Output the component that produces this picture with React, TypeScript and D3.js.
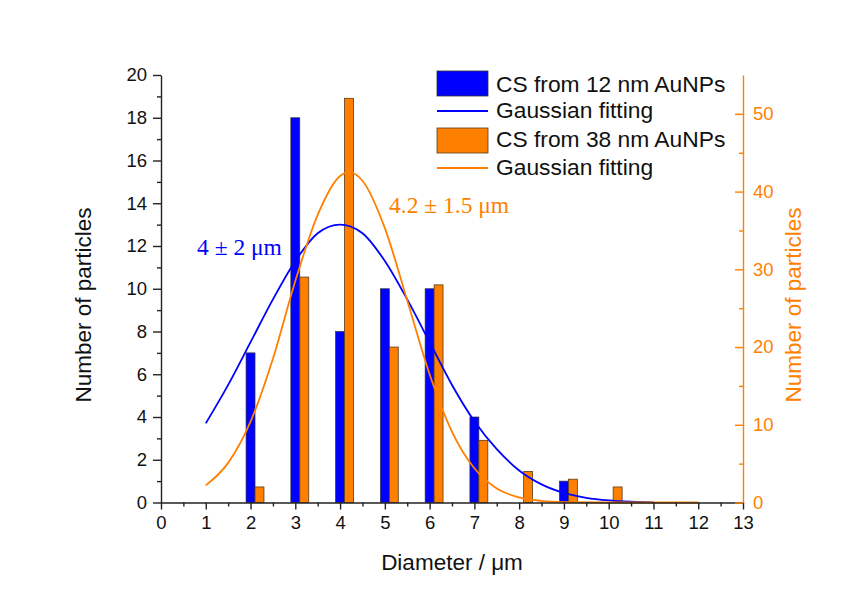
import React, { useEffect, useRef } from "react";
import * as d3 from "d3";

// diameter categories (µm)
const diameters = [2, 3, 4, 5, 6, 7, 8, 9, 10];
// counts for CS from 12 nm AuNPs (left axis)
const blueCounts = [7, 18, 8, 10, 10, 4, 0, 1, 0];
// counts for CS from 38 nm AuNPs (right axis)
const orangeCounts = [2, 29, 52, 20, 28, 8, 4, 3, 2];

// Gaussian fit curves
const blueFitX = [1, 1.5, 2, 2.5, 3, 3.5, 4, 4.5, 5, 5.5, 6, 6.5, 7, 7.5, 8, 8.5, 9, 9.5, 10, 10.5, 11];
const blueFitY = [3.7, 5.5, 7.5, 9.5, 11.3, 12.6, 13, 12.6, 11.3, 9.5, 7.5, 5.5, 3.8, 2.5, 1.5, 0.85, 0.45, 0.22, 0.1, 0.04, 0.01];
const orangeFitX = [1, 1.5, 2, 2.5, 3, 3.5, 4, 4.2, 4.5, 5, 5.5, 6, 6.5, 7, 7.5, 8, 8.5, 9, 10, 11, 12];
const orangeFitY = [2.2, 5.1, 10.4, 18.5, 28.5, 37, 42, 42.5, 41.4, 35.3, 26, 16.5, 9.1, 4.4, 1.8, 0.65, 0.2, 0.05, 0, 0, 0];

const xTicks = d3.range(0, 14);
const leftTicks = d3.range(0, 21, 2);
const rightTicks = [0, 10, 20, 30, 40, 50];

const BLUE = "#0000FF";
const ORANGE = "#FF8000";
const FONT = "Liberation Sans, Arial, sans-serif";

const App = () => {
  const ref = useRef<SVGSVGElement>(null);

  useEffect(() => {
    const svg = d3.select(ref.current);
    svg.selectAll("*").remove();

    const x = d3.scaleLinear().domain([0, 13]).range([161, 743]);
    const yL = d3.scaleLinear().domain([0, 20]).range([502.5, 75]);
    const yR = d3.scaleLinear().domain([0, 55]).range([502.5, 75]);

    // bars
    svg
      .append("g")
      .selectAll("rect")
      .data(diameters.map((d, i) => ({ d, v: blueCounts[i] })).filter(e => e.v > 0))
      .join("rect")
      .attr("x", e => x(e.d - 0.1))
      .attr("width", e => x(e.d + 0.1) - x(e.d - 0.1))
      .attr("y", e => yL(e.v))
      .attr("height", e => yL(0) - yL(e.v))
      .attr("fill", BLUE)
      .attr("stroke", "#333")
      .attr("stroke-width", 0.7);

    svg
      .append("g")
      .selectAll("rect")
      .data(diameters.map((d, i) => ({ d, v: orangeCounts[i] })).filter(e => e.v > 0))
      .join("rect")
      .attr("x", e => x(e.d + 0.1))
      .attr("width", e => x(e.d + 0.3) - x(e.d + 0.1))
      .attr("y", e => yR(e.v))
      .attr("height", e => yR(0) - yR(e.v))
      .attr("fill", ORANGE)
      .attr("stroke", "#5a3a1a")
      .attr("stroke-width", 0.8);

    // fit curves
    const blueLine = d3
      .line<number>()
      .x((_, i) => x(blueFitX[i]))
      .y(v => yL(v))
      .curve(d3.curveMonotoneX);
    const orangeLine = d3
      .line<number>()
      .x((_, i) => x(orangeFitX[i]))
      .y(v => yR(v))
      .curve(d3.curveMonotoneX);

    svg.append("path").attr("d", blueLine(blueFitY)).attr("fill", "none").attr("stroke", BLUE).attr("stroke-width", 1.8);
    svg.append("path").attr("d", orangeLine(orangeFitY)).attr("fill", "none").attr("stroke", ORANGE).attr("stroke-width", 1.8);

    // X axis
    svg
      .append("g")
      .attr("transform", `translate(0,${yL(0)})`)
      .call(d3.axisBottom(x).tickValues(xTicks).tickSize(7).tickPadding(6).tickSizeOuter(0))
      .call(g => g.selectAll("path,line").attr("stroke", "#222").attr("stroke-width", 1.4))
      .call(g => g.selectAll("text").attr("font-size", 18.5).attr("font-family", FONT).attr("fill", "#111"));
    svg
      .append("g")
      .attr("transform", `translate(0,${yL(0)})`)
      .call(d3.axisBottom(x).tickValues(d3.range(0.5, 13, 1)).tickSize(4).tickFormat(() => ""))
      .call(g => g.select(".domain").remove())
      .call(g => g.selectAll("line").attr("stroke", "#222").attr("stroke-width", 1.4));

    // left axis
    svg
      .append("g")
      .attr("transform", `translate(${x(0)},0)`)
      .call(d3.axisLeft(yL).tickValues(leftTicks).tickSize(8).tickPadding(6).tickSizeOuter(0))
      .call(g => g.selectAll("path,line").attr("stroke", "#222").attr("stroke-width", 1.4))
      .call(g => g.selectAll("text").attr("font-size", 18.5).attr("font-family", FONT).attr("fill", "#111"));
    svg
      .append("g")
      .attr("transform", `translate(${x(0)},0)`)
      .call(d3.axisLeft(yL).tickValues(d3.range(1, 20, 2)).tickSize(4).tickFormat(() => ""))
      .call(g => g.select(".domain").remove())
      .call(g => g.selectAll("line").attr("stroke", "#222").attr("stroke-width", 1.4));

    // right axis (ticks inward)
    svg
      .append("g")
      .attr("transform", `translate(${x(13)},0)`)
      .call(d3.axisRight(yR).tickValues(rightTicks).tickSizeInner(-8).tickSizeOuter(0).tickPadding(10))
      .call(g => g.selectAll("path,line").attr("stroke", ORANGE).attr("stroke-width", 1.4))
      .call(g => g.selectAll("text").attr("font-size", 18.5).attr("font-family", FONT).attr("fill", ORANGE));
    svg
      .append("g")
      .attr("transform", `translate(${x(13)},0)`)
      .call(d3.axisRight(yR).tickValues([5, 15, 25, 35, 45]).tickSize(-4).tickFormat(() => ""))
      .call(g => g.select(".domain").remove())
      .call(g => g.selectAll("line").attr("stroke", ORANGE).attr("stroke-width", 1.4));

    // axis titles
    svg
      .append("text")
      .attr("transform", `translate(91,305) rotate(-90)`)
      .attr("text-anchor", "middle")
      .attr("font-size", 22.5)
      .attr("font-family", FONT)
      .attr("fill", "#111")
      .text("Number of particles");
    svg
      .append("text")
      .attr("transform", `translate(801,305) rotate(-90)`)
      .attr("text-anchor", "middle")
      .attr("font-size", 22.5)
      .attr("font-family", FONT)
      .attr("fill", ORANGE)
      .text("Number of particles");
    svg
      .append("text")
      .attr("x", 452)
      .attr("y", 570)
      .attr("text-anchor", "middle")
      .attr("font-size", 22.5)
      .attr("font-family", FONT)
      .attr("fill", "#111")
      .text("Diameter / μm");

    // annotations
    svg
      .append("text")
      .attr("x", 197)
      .attr("y", 255)
      .attr("font-size", 23.5)
      .attr("font-family", "Liberation Serif, Times New Roman, serif")
      .attr("fill", BLUE)
      .text("4 ± 2 μm");
    svg
      .append("text")
      .attr("x", 389)
      .attr("y", 213)
      .attr("font-size", 23.5)
      .attr("font-family", "Liberation Serif, Times New Roman, serif")
      .attr("fill", ORANGE)
      .text("4.2 ± 1.5 μm");

    // legend
    const lg = svg.append("g").attr("font-family", FONT).attr("font-size", 22.8).attr("fill", "#111");
    lg.append("rect").attr("x", 437).attr("y", 71).attr("width", 51).attr("height", 25).attr("fill", BLUE).attr("stroke", "#333").attr("stroke-width", 0.8);
    lg.append("line").attr("x1", 437).attr("x2", 488).attr("y1", 111).attr("y2", 111).attr("stroke", BLUE).attr("stroke-width", 2);
    lg.append("rect").attr("x", 437).attr("y", 128).attr("width", 51).attr("height", 25).attr("fill", ORANGE).attr("stroke", "#5a3a1a").attr("stroke-width", 0.8);
    lg.append("line").attr("x1", 437).attr("x2", 488).attr("y1", 168).attr("y2", 168).attr("stroke", ORANGE).attr("stroke-width", 2);
    lg.append("text").attr("x", 496).attr("y", 92).text("CS from 12 nm AuNPs");
    lg.append("text").attr("x", 496).attr("y", 118).text("Gaussian fitting");
    lg.append("text").attr("x", 496).attr("y", 147).text("CS from 38 nm AuNPs");
    lg.append("text").attr("x", 496).attr("y", 175).text("Gaussian fitting");
  }, []);

  return (
    <svg
      ref={ref}
      width={849}
      height={595}
      style={{ position: "absolute", left: 0, top: 0, background: "#fff" }}
    />
  );
};

export default App;
